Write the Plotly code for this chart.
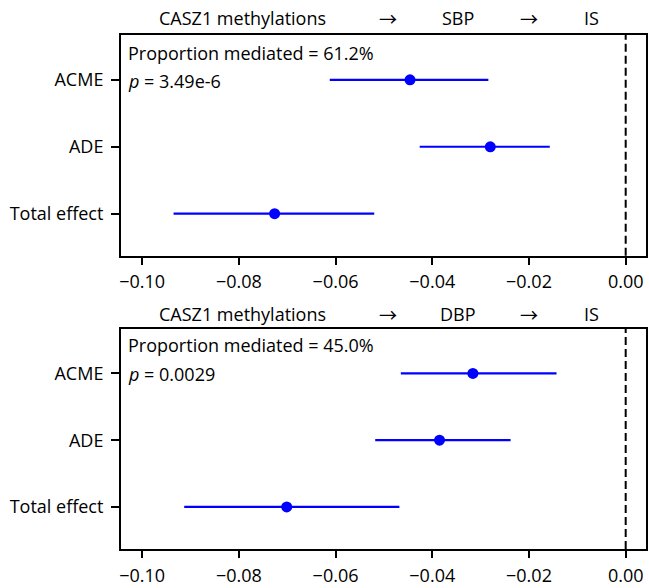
import plotly.graph_objects as go

# ---- data ----
categories = ["ACME", "ADE", "Total effect"]
cat_pos = [2, 1, 0]

sbp_est = [-0.0446, -0.0280, -0.0726]
sbp_lo = [-0.0612, -0.0426, -0.0935]
sbp_hi = [-0.0284, -0.0157, -0.0520]

dbp_est = [-0.0316, -0.0385, -0.0701]
dbp_lo = [-0.0465, -0.0518, -0.0913]
dbp_hi = [-0.0143, -0.0238, -0.0468]

x_ticks = [-0.10, -0.08, -0.06, -0.04, -0.02, 0.00]
x_ticktext = ["\u22120.10", "\u22120.08", "\u22120.06", "\u22120.04", "\u22120.02", "0.00"]

panels = [
    dict(est=sbp_est, lo=sbp_lo, hi=sbp_hi, mediator="SBP",
         prop="Proportion mediated = 61.2%", p="<i>p</i> = 3.49e-6"),
    dict(est=dbp_est, lo=dbp_lo, hi=dbp_hi, mediator="DBP",
         prop="Proportion mediated = 45.0%", p="<i>p</i> = 0.0029"),
]

# ---- layout geometry (pixels) ----
W, H = 649, 588
L, R, T, B = 121, 1, 35, 31
PW, PH = W - L - R, H - T - B


def fx(px):
    return (px - L) / PW


def fy(py):
    return (H - B - py) / PH


FONT = "Open Sans"
FS = 18
BLUE = "#0000ff"
ARROW_FONT = "Noto Sans CJK SC"

fig = go.Figure()

domains = [[fy(259.3), 1.0], [0.0, fy(333.3)]]
title_y = [18, 318]
prop_y = [53.3, 350]
p_y = [81.7, 379.3]

annotations = []
shapes = []
for i, pnl in enumerate(panels):
    xa = "x" if i == 0 else "x2"
    ya = "y" if i == 0 else "y2"
    err_plus = [h - e for h, e in zip(pnl["hi"], pnl["est"])]
    err_minus = [e - l for e, l in zip(pnl["est"], pnl["lo"])]
    fig.add_trace(go.Scatter(
        x=pnl["est"], y=cat_pos, mode="markers",
        marker=dict(color=BLUE, size=11, line=dict(width=0)),
        error_x=dict(type="data", array=err_plus, arrayminus=err_minus,
                     color=BLUE, thickness=2.2, width=0, symmetric=False),
        xaxis=xa, yaxis=ya, showlegend=False, hoverinfo="x+y",
    ))
    shapes.append(dict(type="line", xref=xa, yref=f"{ya} domain",
                       x0=0, x1=0, y0=0, y1=1,
                       line=dict(color="black", width=2, dash="8px,4px")))
    # title pieces
    pieces = [("CASZ1 methylations", 243, FONT, FS),
              ("\u2192", 389.5, ARROW_FONT, 18),
              (pnl["mediator"], 459.5, FONT, FS),
              ("\u2192", 531, ARROW_FONT, 18),
              ("IS", 593.5, FONT, FS)]
    for txt, cx, fam, sz in pieces:
        annotations.append(dict(text=txt, xref="paper", yref="paper",
                                x=fx(cx), y=fy(title_y[i]), xanchor="center",
                                yanchor="middle", showarrow=False,
                                font=dict(family=fam, size=sz, color="black")))
    annotations.append(dict(text=pnl["prop"], xref="paper", yref="paper",
                            x=fx(126.5), y=fy(prop_y[i]), xanchor="left",
                            yanchor="middle", showarrow=False,
                            font=dict(family=FONT, size=FS, color="black")))
    annotations.append(dict(text=pnl["p"], xref="paper", yref="paper",
                            x=fx(126.5), y=fy(p_y[i]), xanchor="left",
                            yanchor="middle", showarrow=False,
                            font=dict(family=FONT, size=FS, color="black")))

axis_common = dict(showline=True, linecolor="black", linewidth=2, mirror=True,
                   showgrid=False, zeroline=False, ticks="outside",
                   ticklen=7, tickwidth=2, tickcolor="black",
                   tickfont=dict(family=FONT, size=FS, color="black"))

xrange = [-0.10437, 0.0042]
yrange = [-0.63, 2.67]

fig.update_layout(
    width=W, height=H,
    margin=dict(l=L, r=R, t=T, b=B),
    paper_bgcolor="white", plot_bgcolor="white",
    xaxis=dict(axis_common, range=xrange, tickvals=x_ticks, ticktext=x_ticktext,
               anchor="y", ticklabelstandoff=2),
    yaxis=dict(axis_common, range=yrange, tickvals=cat_pos, ticktext=categories,
               domain=domains[0], anchor="x", ticklabelstandoff=4, ticklen=8),
    xaxis2=dict(axis_common, range=xrange, tickvals=x_ticks, ticktext=x_ticktext,
                anchor="y2", ticklabelstandoff=2),
    yaxis2=dict(axis_common, range=yrange, tickvals=cat_pos, ticktext=categories,
                domain=domains[1], anchor="x2", ticklabelstandoff=4, ticklen=8),
    annotations=annotations,
    shapes=shapes,
)

fig.write_html("out.html")
